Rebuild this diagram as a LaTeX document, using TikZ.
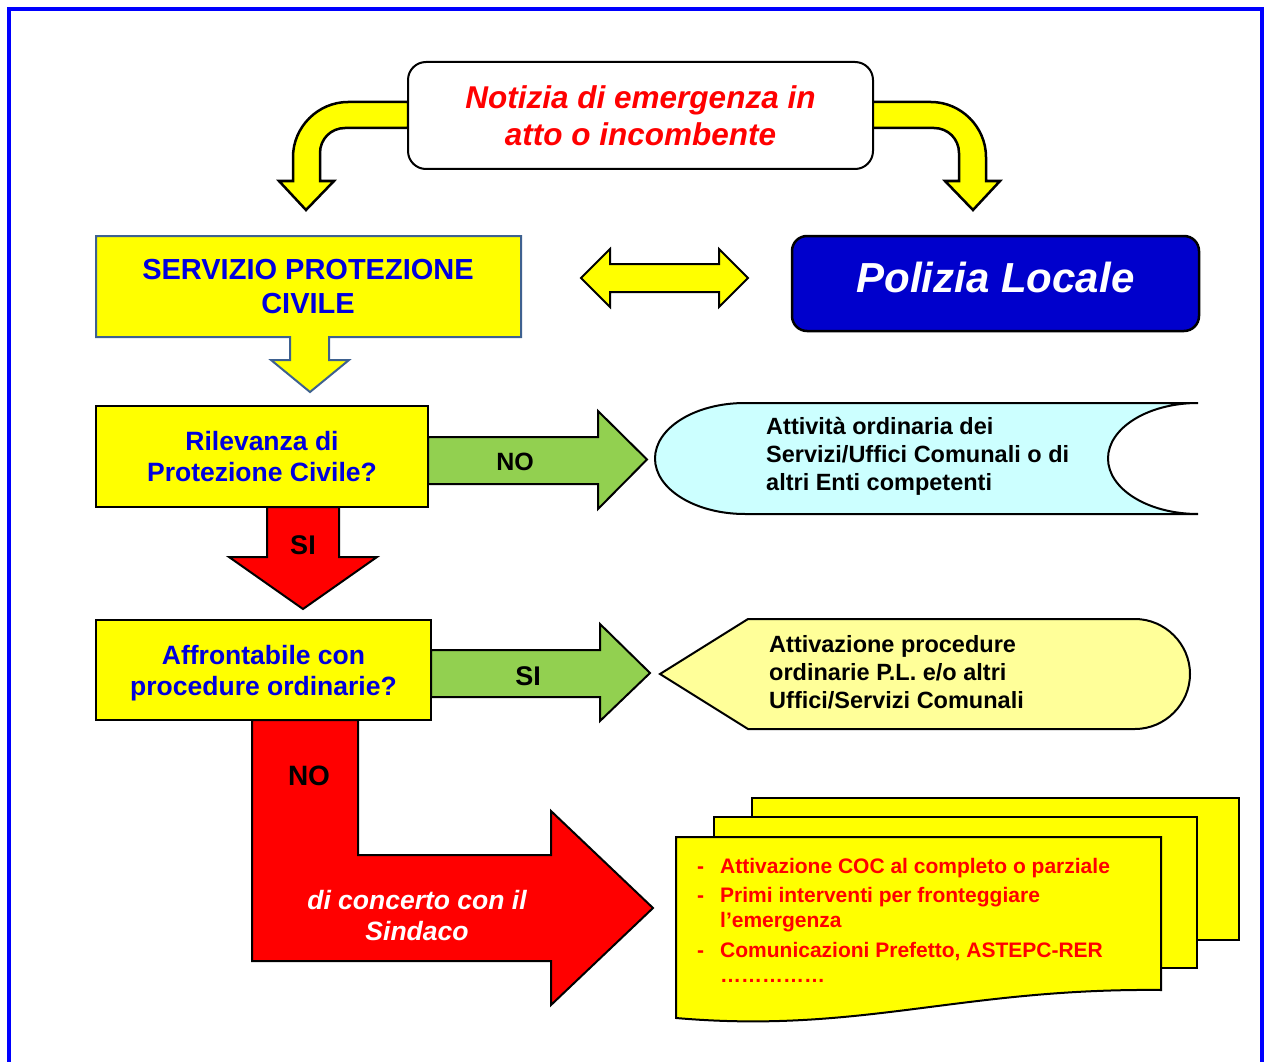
\documentclass[tikz,border=0pt]{standalone}
\usepackage{fontspec}
\setmainfont{Liberation Sans}
\usepackage{tikz}
\definecolor{pcframe}{HTML}{0000FF}
\definecolor{pcyellow}{HTML}{FFFF00}
\definecolor{pctext}{HTML}{0000DD}
\definecolor{pcnavy}{HTML}{0000CC}
\definecolor{pcsteel}{HTML}{3E6190}
\definecolor{pcgreen}{HTML}{92D050}
\definecolor{pcred}{HTML}{FF0000}
\definecolor{pccyan}{HTML}{CCFFFF}
\definecolor{pcpale}{HTML}{FFFF99}
\tikzset{
  blockarrow/.style={draw=black,line width=2,line join=miter},
  questionbox/.style={draw=black,line width=2,fill=pcyellow,align=center,text=pctext,
    font=\fontsize{26.5}{31}\selectfont\bfseries},
  arrowlabel/.style={inner sep=0,font=\fontsize{25}{30}\selectfont\bfseries},
  sidetext/.style={align=left,anchor=west,inner sep=0,font=\fontsize{23.5}{28}\selectfont\bfseries}
}

\begin{document}
\begin{tikzpicture}[x=1pt,y=-1pt]
  \useasboundingbox (0,0) rectangle (1264,1062);
  \draw[pcframe,line width=4] (9,1080) -- (9,9) -- (1262,9) -- (1262,1080);

  % curved arrows from the news box
  \filldraw[blockarrow,fill=pcyellow,line width=2.5] (408,102) -- (348,102)
    .. controls (318,102) and (293,127) .. (293,157) -- (293,181) -- (279,181)
    -- (306,210) -- (334,181) -- (320,181) -- (320,153)
    .. controls (320,139) and (331,128) .. (345,128) -- (408,128) -- cycle;
  \filldraw[blockarrow,fill=pcyellow,line width=2.5] (871,102) -- (931,102)
    .. controls (961,102) and (986,127) .. (986,157) -- (986,181) -- (1000,181)
    -- (973,210) -- (945,181) -- (959,181) -- (959,153)
    .. controls (959,139) and (948,128) .. (934,128) -- (871,128) -- cycle;
  \node[draw=black,line width=2,rounded corners=18,fill=white,minimum width=465,minimum height=107,
    align=center,text=pcred,font=\fontsize{31.5}{37}\selectfont\bfseries\itshape]
    (notizia) at (640.5,115.5) {Notizia di emergenza in\\atto o incombente};

  % servizio protezione civile
  \filldraw[draw=pcsteel,line width=2,fill=pcyellow] (96,236) -- (521,236) -- (521,337)
    -- (329,337) -- (329,360) -- (349,360) -- (310,392) -- (271,360) -- (290,360)
    -- (290,337) -- (96,337) -- cycle;
  \node[align=center,text=pctext,font=\fontsize{29}{34}\selectfont\bfseries]
    (servizio) at (308,287) {SERVIZIO PROTEZIONE\\CIVILE};

  \filldraw[blockarrow,fill=pcyellow] (581,278) -- (610,249) -- (610,264) -- (719,264)
    -- (719,249) -- (748,278) -- (719,307) -- (719,292) -- (610,292) -- (610,307) -- cycle;
  \node[draw=black,line width=2.5,rounded corners=15,fill=pcnavy,minimum width=407,minimum height=95,
    text=white,text depth=12,font=\fontsize{42}{48}\selectfont\bfseries\itshape]
    (polizia) at (995.5,283.5) {Polizia Locale};

  % first question
  \filldraw[blockarrow,fill=pcgreen] (428,437) -- (598,437) -- (598,411) -- (647,459.5)
    -- (598,509) -- (598,484) -- (428,484) -- cycle;
  \node[arrowlabel] (no1) at (515,462) {NO};
  \filldraw[blockarrow,fill=pcred] (267,507) -- (339,507) -- (339,557) -- (377,557)
    -- (303,609) -- (229,557) -- (267,557) -- cycle;
  \node[arrowlabel,font=\fontsize{27}{30}\selectfont\bfseries] (si1) at (303,545) {SI};
  \node[questionbox,minimum width=332,minimum height=101]
    (rilevanza) at (262,456.5) {Rilevanza di\\Protezione Civile?};

  \filldraw[blockarrow,fill=pccyan] (1198,403) -- (745,403)
    .. controls (695,403) and (655,428) .. (655,458.5)
    .. controls (655,489) and (695,514) .. (745,514) -- (1198,514)
    .. controls (1148,514) and (1108,489) .. (1108,458.5)
    .. controls (1108,428) and (1148,403) .. (1198,403);
  \node[sidetext] (attivita) at (766,456)
    {Attività ordinaria dei\\Servizi/Uffici Comunali o di\\altri Enti competenti};

  % second question
  \filldraw[blockarrow,fill=pcred] (252,720) -- (358,720) -- (358,855) -- (551,855)
    -- (551,811) -- (653,908) -- (551,1005) -- (551,961) -- (252,961) -- cycle;
  \node[arrowlabel,font=\fontsize{28}{32}\selectfont\bfseries] (no2) at (309,776) {NO};
  \node[align=center,text=white,font=\fontsize{26.5}{31}\selectfont\bfseries\itshape]
    (concerto) at (417,915.5) {di concerto con il\\Sindaco};
  \filldraw[blockarrow,fill=pcgreen] (431,650) -- (600,650) -- (600,624) -- (650,673)
    -- (600,721) -- (600,697) -- (431,697) -- cycle;
  \node[arrowlabel,font=\fontsize{27}{30}\selectfont\bfseries] (si2) at (528,676) {SI};
  \node[questionbox,minimum width=335,minimum height=100,text depth=0]
    (affrontabile) at (263.5,670) {Affrontabile con\\procedure ordinarie?};

  \filldraw[blockarrow,fill=pcpale] (660,674) -- (748,619) -- (1135,619)
    .. controls (1165,619) and (1190,644) .. (1190,674)
    .. controls (1190,704) and (1165,729) .. (1135,729) -- (748,729) -- cycle;
  \node[sidetext] (procedure) at (769,672)
    {Attivazione procedure\\ordinarie P.L. e/o altri\\Uffici/Servizi Comunali};

  % documents
  \filldraw[blockarrow,fill=pcyellow] (752,798) rectangle (1239,940);
  \filldraw[blockarrow,fill=pcyellow] (714,817) rectangle (1197,968);
  \filldraw[blockarrow,fill=pcyellow] (676,837) -- (1161,837) -- (1161,990)
    .. controls (960,988) and (860,1034) .. (676,1018) -- cycle;
  \node[anchor=base west,inner sep=0,text=pcred,font=\fontsize{21}{25}\selectfont\bfseries]
    (azioni) at (697,873) {\begin{tabular}[t]{@{}p{23pt}@{}l@{}}
      - & Attivazione COC al completo o parziale\\[4.5pt]
      - & Primi interventi per fronteggiare\\
        & l’emergenza\\[4.5pt]
      - & Comunicazioni Prefetto, ASTEPC-RER\\
        & ……………
    \end{tabular}};
\end{tikzpicture}
\end{document}
